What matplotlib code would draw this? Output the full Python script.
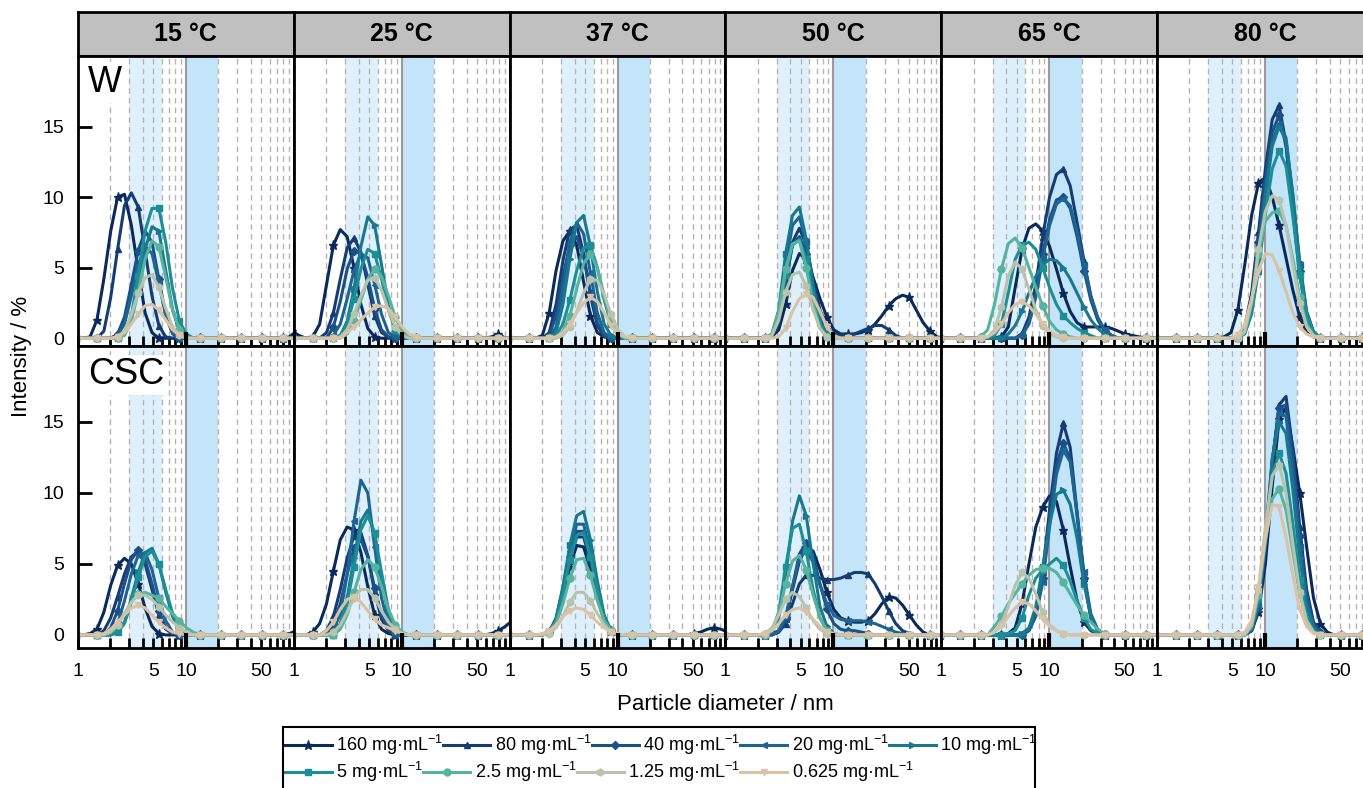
import numpy as np
import matplotlib
matplotlib.use('Agg')
import matplotlib.pyplot as plt
from matplotlib.ticker import NullFormatter
from matplotlib.patches import Rectangle

plt.rcParams['font.family'] = ['Liberation Sans', 'DejaVu Sans']
plt.rcParams['mathtext.default'] = 'regular'

# DLS size classes (nm)
bins_nm = [0.9649, 1.117, 1.294, 1.499, 1.736, 2.01, 2.328, 2.696, 3.122, 3.615,
           4.187, 4.849, 5.615, 6.503, 7.531, 8.721, 10.1, 11.7, 13.54, 15.69,
           18.17, 21.04, 24.36, 28.21, 32.67, 37.84, 43.82, 50.75, 58.77, 68.06,
           78.82, 91.28, 105.7]

temps = ['15 °C', '25 °C', '37 °C', '50 °C', '65 °C', '80 °C']
concs = ['160', '80', '40', '20', '10', '5', '2.5', '1.25', '0.625']
colors = ['#0a2a5c', '#163d73', '#1b4f88', '#1d6493', '#18788f', '#1c8f96',
          '#56b3a0', '#b8c3ad', '#d9c2a5']
markers = ['*', '^', 'D', '<', '>', 's', 'o', 'h', 'v']
msizes = [6.5, 5, 4, 5, 5, 4.5, 5, 5, 5]

# intensity distributions: (first bin, intensities / %) per concentration
w15 = [(2, [0.1, 1.3, 4.2, 7.6, 10.0, 10.2, 8.0, 4.8, 1.8, 0.4,
            0, 0, 0, 0, 0, 0, 0, 0, 0, 0, 0, 0, 0, 0, 0, 0, 0, 0, 0, 0.1, 0.5]),
       (4, [0.5, 2.9, 6.3, 9.4, 10.3, 9.3, 6.2, 3.0, 0.9, 0.1]),
       (6, [0.3, 1.5, 3.8, 6.2, 7.6, 6.8, 4.2, 1.6, 0.3]),
       (6, [0.2, 1.0, 3.0, 5.2, 6.5, 6.0, 3.9, 1.6, 0.4]),
       (7, [0.3, 1.5, 3.8, 6.3, 7.9, 7.6, 4.8, 2.0, 0.5, 0.2]),
       (7, [0.3, 1.6, 4.4, 7.6, 9.2, 9.2, 6.8, 3.5, 1.2, 0.3]),
       (7, [0.2, 1.2, 3.3, 5.6, 6.9, 6.5, 4.3, 2.0, 0.6, 0.1]),
       (6, [0.1, 0.5, 1.7, 3.2, 4.3, 4.5, 3.6, 2.1, 0.8, 0.2]),
       (6, [0.1, 0.4, 1.0, 1.7, 2.3, 2.4, 2.0, 1.3, 0.6, 0.2])]

w25 = [(0, [0.5, 0.2, 0, 0.1, 1.0, 3.8, 6.6, 7.7, 7.2, 5.0, 2.4, 0.7, 0.1,
            0, 0, 0, 0, 0, 0, 0, 0, 0, 0, 0, 0, 0, 0, 0, 0, 0.1, 0.3]),
       (5, [0.4, 1.8, 4.2, 6.4, 7.1, 6.1, 3.8, 1.6, 0.4, 0.1]),
       (6, [0.8, 2.6, 4.9, 6.2, 6.0, 4.3, 2.1, 0.6, 0.1]),
       (6, [0.2, 1.0, 2.8, 4.8, 6.0, 5.7, 3.8, 1.7, 0.4, 0.1]),
       (7, [0.2, 1.2, 3.5, 6.5, 8.6, 8.0, 5.2, 2.3, 0.6, 0.1]),
       (7, [0.2, 1.0, 2.8, 4.9, 6.3, 6.0, 4.2, 2.0, 0.6, 0.1]),
       (8, [0.3, 1.2, 2.7, 4.2, 4.9, 4.4, 3.0, 1.5, 0.5, 0.1]),
       (7, [0.1, 0.6, 1.7, 3.0, 4.1, 4.3, 3.4, 2.0, 0.8, 0.2]),
       (8, [0.4, 0.8, 1.3, 1.8, 2.2, 2.3, 2.1, 1.5, 0.8, 0.3, 0.1])]

w37 = [(5, [0.2, 1.8, 4.8, 6.9, 7.6, 6.6, 4.0, 1.6, 0.4, 0.1]),
       (6, [0.4, 2.4, 5.5, 7.7, 8.0, 6.0, 3.0, 0.9, 0.1]),
       (6, [0.2, 1.6, 4.4, 6.6, 7.2, 5.8, 3.2, 1.1, 0.2]),
       (7, [0.8, 3.5, 6.8, 8.2, 7.4, 4.6, 1.8, 0.4]),
       (7, [0.4, 2.4, 5.6, 8.2, 8.7, 6.5, 3.3, 1.0, 0.2]),
       (7, [0.2, 1.0, 2.7, 4.8, 6.4, 6.6, 5.0, 2.7, 1.0, 0.2]),
       (8, [0.5, 1.6, 3.5, 5.3, 6.0, 5.0, 3.0, 1.2, 0.3]),
       (8, [0.2, 0.8, 1.9, 3.2, 4.2, 4.1, 3.1, 1.7, 0.6, 0.1]),
       (7, [0.1, 0.4, 1.0, 1.8, 2.5, 2.9, 2.6, 1.8, 0.9, 0.3, 0.1])]

w50 = [(7, [0.1, 0.6, 2.4, 4.8, 6.0, 5.6, 4.3, 2.8, 1.5, 0.6, 0.3, 0.3, 0.3,
            0.4, 0.6, 1.0, 1.6, 2.3, 2.8, 3.05, 2.9, 2.0, 1.1, 0.5, 0.1]),
       (7, [0.1, 1.0, 3.8, 6.8, 7.8, 6.6, 4.2, 2.0, 0.8, 0.3, 0.2, 0.2, 0.3,
            0.5, 0.7, 0.9, 0.9, 0.6, 0.2]),
       (7, [0.1, 1.2, 4.0, 6.6, 7.2, 6.0, 3.6, 1.4, 0.4, 0.1]),
       (7, [0.2, 1.6, 5.2, 8.0, 8.6, 6.8, 3.7, 1.4, 0.4, 0.1]),
       (7, [0.3, 2.0, 6.0, 8.7, 9.3, 7.0, 3.6, 1.2, 0.3, 0.1]),
       (7, [0.2, 1.5, 4.5, 6.6, 7.0, 5.6, 3.0, 1.0, 0.2]),
       (7, [0.3, 1.9, 4.9, 6.7, 6.9, 5.0, 2.4, 0.7, 0.1]),
       (7, [0.2, 1.3, 3.3, 4.5, 4.7, 3.7, 2.0, 0.7, 0.1]),
       (8, [0.1, 0.7, 1.9, 2.8, 3.1, 2.9, 1.9, 0.8, 0.2])]

w65 = [(9, [0.1, 0.8, 3.6, 6.3, 7.8, 8.1, 7.6, 6.5, 4.9, 3.2, 1.9, 1.1, 0.8,
            0.8, 0.8, 0.8, 0.7, 0.5, 0.3, 0.2, 0.1]),
       (12, [0.3, 1.5, 3.8, 7.2, 10.0, 11.6, 12.0, 10.8, 8.2, 5.5, 3.0, 1.4, 0.6, 0.2]),
       (12, [0.2, 1.2, 3.2, 6.0, 8.4, 9.8, 10.0, 9.2, 7.2, 4.8, 2.7, 1.3, 0.5, 0.2]),
       (12, [0.2, 1.0, 2.9, 5.6, 8.0, 9.5, 9.9, 9.4, 7.6, 5.2, 3.0, 1.5, 0.6, 0.2]),
       (10, [0.3, 0.9, 1.9, 3.2, 4.4, 5.2, 5.6, 5.5, 5.0, 4.2, 3.2, 2.2, 1.3, 0.7, 0.3, 0.1]),
       (8, [0.2, 1.0, 3.2, 5.6, 6.6, 6.8, 6.3, 5.0, 3.6, 2.4, 1.6, 1.1, 0.7, 0.4, 0.2]),
       (6, [0.1, 0.6, 2.4, 4.9, 6.7, 7.1, 6.4, 5.0, 3.6, 2.3, 1.2, 0.6, 0.3, 0.1]),
       (7, [0.1, 0.6, 2.2, 4.4, 5.4, 4.9, 3.5, 2.0, 0.9, 0.3, 0.1]),
       (7, [0.1, 0.4, 1.0, 1.8, 2.4, 2.6, 2.3, 1.7, 1.0, 0.5, 0.2, 0.1])]

w80 = [(10, [0.1, 0.4, 2.0, 5.2, 8.7, 11.0, 11.4, 10.0, 8.0, 5.7, 3.4, 1.5, 0.4, 0.1]),
       (12, [0.1, 0.8, 3.2, 7.5, 12.0, 15.5, 16.5, 13.8, 9.0, 4.5, 1.5, 0.3]),
       (12, [0.1, 0.6, 2.8, 6.8, 11.2, 14.6, 15.8, 13.6, 9.2, 4.8, 1.7, 0.4]),
       (12, [0.1, 0.5, 2.4, 6.2, 10.5, 14.0, 15.2, 14.2, 10.0, 5.2, 1.8, 0.4]),
       (13, [0.4, 2.0, 5.6, 10.0, 13.6, 15.0, 14.0, 10.2, 5.4, 1.9, 0.5]),
       (13, [0.3, 1.7, 4.8, 8.8, 12.0, 13.3, 12.2, 8.6, 4.5, 1.6, 0.4]),
       (13, [0.4, 2.5, 6.0, 8.3, 8.9, 9.0, 8.0, 5.6, 2.9, 1.0, 0.2]),
       (13, [0.5, 2.6, 6.3, 9.0, 10.1, 9.8, 8.0, 5.2, 2.5, 0.8, 0.2]),
       (12, [0.2, 1.0, 2.8, 4.8, 6.0, 5.9, 4.8, 3.3, 1.8, 0.8, 0.3, 0.1])]

csc15 = [(2, [0.1, 0.4, 1.6, 3.5, 4.9, 5.4, 5.0, 3.6, 1.9, 0.6, 0.1,
              0, 0, 0, 0, 0, 0, 0, 0, 0, 0, 0, 0, 0, 0, 0, 0, 0, 0, 0.1, 0.3]),
         (4, [0.3, 1.2, 2.7, 4.3, 5.5, 5.9, 5.0, 3.2, 1.4, 0.4, 0.1]),
         (5, [0.5, 1.7, 3.6, 5.3, 6.0, 5.3, 3.6, 1.7, 0.5, 0.1]),
         (6, [0.8, 2.4, 4.3, 5.6, 5.8, 4.6, 2.6, 1.0, 0.2]),
         (6, [0.2, 0.9, 2.6, 4.4, 5.8, 6.1, 5.0, 3.0, 1.3, 0.3]),
         (6, [0.2, 0.8, 2.3, 4.1, 5.5, 5.9, 5.0, 3.2, 1.5, 0.4, 0.1]),
         (5, [0.2, 0.7, 1.5, 2.3, 2.9, 3.0, 2.8, 2.6, 2.0, 1.5, 1.0, 0.5, 0.2]),
         (5, [0.2, 0.7, 1.5, 2.3, 2.8, 2.8, 2.5, 2.0, 1.4, 0.9, 0.5, 0.2]),
         (4, [0.1, 0.4, 0.9, 1.4, 1.9, 2.1, 1.9, 1.4, 0.9, 0.5, 0.2, 0.1])]

csc25 = [(3, [0.2, 0.8, 2.2, 4.5, 6.7, 7.6, 7.4, 5.8, 3.4, 1.4, 0.4, 0.1,
              0, 0, 0, 0, 0, 0, 0, 0, 0, 0, 0, 0, 0, 0, 0.1, 0.3, 0.6, 1.0]),
         (5, [0.3, 1.3, 3.2, 5.4, 7.0, 7.2, 5.6, 3.0, 1.1, 0.3]),
         (6, [0.8, 2.2, 4.3, 6.1, 6.7, 5.5, 3.3, 1.4, 0.4, 0.1]),
         (6, [0.3, 1.5, 4.2, 8.0, 10.9, 10.0, 6.2, 2.6, 0.7, 0.1]),
         (7, [0.8, 2.6, 5.4, 8.0, 8.8, 7.0, 3.9, 1.4, 0.3]),
         (7, [0.7, 2.2, 4.8, 7.4, 8.4, 7.2, 4.4, 1.8, 0.5, 0.1]),
         (7, [0.4, 1.4, 3.0, 4.6, 5.3, 4.8, 3.4, 1.8, 0.7, 0.2]),
         (6, [0.2, 0.7, 1.6, 2.6, 3.2, 3.2, 2.6, 1.7, 0.9, 0.4, 0.1]),
         (5, [0.3, 0.9, 1.8, 2.5, 2.7, 2.3, 1.7, 1.1, 0.7, 0.5, 0.3, 0.1])]

csc37 = [(6, [0.2, 1.0, 2.7, 4.8, 6.3, 6.2, 4.6, 2.6, 1.0, 0.3,
              0, 0, 0, 0, 0, 0, 0, 0, 0, 0, 0, 0.1, 0.2, 0.4, 0.5, 0.4, 0.2]),
         (6, [0.2, 1.0, 2.9, 5.2, 6.9, 6.9, 5.2, 2.9, 1.1, 0.3]),
         (6, [0.2, 1.1, 3.1, 5.5, 7.3, 7.3, 5.5, 3.1, 1.2, 0.3]),
         (6, [0.2, 1.2, 3.3, 5.9, 7.8, 7.8, 5.8, 3.3, 1.2, 0.3]),
         (6, [0.2, 1.1, 3.4, 6.3, 8.4, 8.7, 6.7, 3.8, 1.4, 0.3]),
         (6, [0.2, 1.0, 2.9, 5.3, 7.0, 7.2, 5.5, 3.2, 1.2, 0.3]),
         (6, [0.2, 0.8, 2.2, 4.0, 5.3, 5.4, 4.2, 2.4, 1.0, 0.3]),
         (6, [0.1, 0.5, 1.3, 2.3, 3.0, 3.0, 2.4, 1.5, 0.7, 0.2]),
         (5, [0.1, 0.3, 0.7, 1.3, 1.7, 1.9, 1.8, 1.4, 0.9, 0.5, 0.2, 0.1])]

csc50 = [(7, [0.1, 0.3, 1.2, 3.2, 5.2, 6.2, 5.9, 4.6, 3.0, 1.8, 1.2, 1.0, 0.9,
              0.9, 1.0, 1.5, 2.2, 2.7, 2.6, 2.1, 1.4, 0.7, 0.2]),
         (8, [0.2, 0.8, 2.2, 3.6, 4.2, 4.2, 4.0, 3.9, 3.9, 4.0, 4.2, 4.4, 4.4,
              4.3, 3.6, 2.7, 1.7, 0.8, 0.3, 0.1]),
         (8, [0.2, 1.1, 3.4, 5.7, 6.5, 5.6, 3.6, 1.8, 0.8, 0.4, 0.3, 0.3, 0.2, 0.1]),
         (8, [0.3, 1.3, 3.4, 5.4, 6.0, 5.1, 3.5, 2.2, 1.4, 1.1, 1.0, 1.0, 1.0,
              0.9, 0.8, 0.6, 0.4, 0.2, 0.1]),
         (7, [0.2, 1.2, 4.2, 8.0, 9.8, 8.4, 5.0, 2.0, 0.6, 0.1]),
         (7, [0.3, 1.6, 4.8, 7.5, 7.8, 5.9, 3.2, 1.2, 0.3]),
         (7, [0.3, 1.5, 3.6, 5.2, 5.6, 4.6, 2.8, 1.2, 0.3]),
         (6, [0.1, 0.5, 1.4, 2.5, 3.0, 2.7, 1.9, 1.0, 0.4, 0.1]),
         (6, [0.1, 0.3, 0.8, 1.4, 1.8, 1.9, 1.6, 1.1, 0.6, 0.2, 0.1])]

csc65 = [(10, [0.1, 0.5, 2.2, 5.0, 7.6, 9.0, 9.8, 9.4, 7.4, 4.8, 2.4, 0.9, 0.3, 0.1]),
         (12, [0.1, 0.4, 1.6, 4.4, 8.8, 12.8, 14.9, 13.2, 8.6, 4.0, 1.2, 0.3]),
         (13, [0.3, 1.4, 4.0, 8.2, 12.0, 13.5, 12.4, 8.4, 4.0, 1.3, 0.3]),
         (13, [0.3, 1.3, 3.7, 7.6, 11.3, 13.0, 12.2, 8.6, 4.4, 1.5, 0.4]),
         (12, [0.1, 0.5, 2.0, 4.8, 7.8, 9.9, 10.2, 9.2, 6.8, 3.6, 1.3, 0.3]),
         (10, [0.1, 0.3, 1.2, 2.8, 4.0, 4.6, 5.0, 5.4, 4.9, 3.8, 2.4, 1.2, 0.4, 0.1]),
         (8, [0.6, 1.3, 2.2, 2.9, 3.6, 4.2, 4.6, 4.7, 4.7, 4.4, 3.7, 2.9, 2.1,
              1.4, 0.9, 0.4, 0.1]),
         (8, [0.2, 0.8, 2.0, 3.5, 4.4, 4.0, 2.9, 1.6, 0.7, 0.3, 0.1]),
         (8, [0.2, 0.6, 1.3, 1.9, 2.3, 2.2, 1.7, 1.1, 0.6, 0.3, 0.1])]

csc80 = [(14, [0.3, 1.6, 5.0, 10.5, 15.2, 16.0, 13.2, 10.0, 6.2, 2.6, 0.8, 0.2]),
         (14, [0.3, 1.8, 6.0, 12.0, 16.2, 16.8, 13.0, 7.6, 3.2, 0.9, 0.2]),
         (14, [0.3, 1.9, 6.2, 12.2, 16.0, 16.2, 12.4, 7.0, 2.8, 0.8, 0.2]),
         (14, [0.4, 2.1, 6.6, 12.4, 15.6, 15.4, 11.4, 6.2, 2.4, 0.6, 0.1]),
         (14, [0.4, 2.3, 7.0, 12.4, 15.0, 14.2, 10.2, 5.4, 2.0, 0.5, 0.1]),
         (14, [0.5, 2.6, 7.0, 11.3, 12.8, 11.4, 7.8, 3.9, 1.3, 0.3]),
         (14, [0.6, 2.8, 6.6, 9.6, 10.3, 8.8, 5.9, 2.9, 1.0, 0.2]),
         (14, [0.7, 3.2, 7.6, 11.2, 12.0, 10.0, 6.4, 3.0, 1.0, 0.2]),
         (13, [0.2, 1.0, 3.4, 6.8, 9.2, 9.0, 6.9, 4.2, 1.8, 0.6, 0.1])]

rows = [('W', [w15, w25, w37, w50, w65, w80]),
        ('CSC', [csc15, csc25, csc37, csc50, csc65, csc80])]

grid_pos = [2, 3, 4, 5, 6, 7, 8, 9, 20, 30, 40, 50, 60, 70, 80, 90]
minor_pos = [2, 3, 4, 6, 7, 8, 9, 20, 30, 40, 60, 70, 80, 90]


def expand(start, vals):
    y = np.zeros(len(bins_nm))
    y[start:start + len(vals)] = vals
    return y


W, H = 1363, 788
fig = plt.figure(figsize=(W / 100, H / 100), dpi=100)


def frac(x0, y0, w, h):
    return [x0 / W, 1 - (y0 + h) / H, w / W, h / H]


col_w = 215.8
left0 = 78
row_top = [56, 346]
row_h = [290, 302]
ylims = [(-0.55, 20.0), (-0.92, 20.35)]

# temperature header strips
for c, t in enumerate(temps):
    hax = fig.add_axes(frac(left0 + c * col_w, 12, col_w, 44))
    hax.set_facecolor('#c0c0c0')
    hax.set_xticks([])
    hax.set_yticks([])
    for sp in hax.spines.values():
        sp.set_linewidth(2)
    hax.text(0.5, 0.5, t, transform=hax.transAxes, ha='center', va='center',
             fontsize=18, fontweight='bold')

handles = []
for r, (medium, panels) in enumerate(rows):
    for c, panel in enumerate(panels):
        ax = fig.add_axes(frac(left0 + c * col_w, row_top[r], col_w, row_h[r]))
        ax.set_xscale('log')
        ax.set_xlim(1, 100)
        ax.set_ylim(*ylims[r])

        ax.axvspan(3, 6, color='#dff0fd', lw=0, zorder=0.5)
        ax.axvspan(10, 20, color='#c4e4f9', lw=0, zorder=0.5)
        for g in grid_pos:
            ax.axvline(g, color='#b4b4b4', lw=1, ls=(0, (4, 3)), zorder=1)
        ax.axvline(10, color='#9a9a9a', lw=1.5, zorder=1.2)

        for i, (start, vals) in enumerate(panel):
            ln, = ax.plot(bins_nm, expand(start, vals), color=colors[i], lw=2.2,
                          marker=markers[i], ms=msizes[i], markevery=3,
                          zorder=3 + i * 0.01,
                          label=f'{concs[i]} mg·mL$^{{-1}}$')
            if r == 0 and c == 0:
                handles.append(ln)

        ax.set_xticks([1, 5, 10, 50])
        ax.set_xticks(minor_pos, minor=True)
        ax.xaxis.set_minor_formatter(NullFormatter())
        if r == 1:
            ax.set_xticklabels(['1', '5', '10', '50'])
        else:
            ax.set_xticklabels([])
        ax.tick_params(axis='x', which='both', direction='in', length=7,
                       width=2, labelsize=14, pad=11)
        # longer mark at 10 nm
        ax.plot([10, 10], [0, 0.05], transform=ax.get_xaxis_transform(),
                color='black', lw=3, solid_capstyle='butt', clip_on=False,
                zorder=5)

        if c == 0:
            ax.set_yticks([0, 5, 10, 15])
            ax.tick_params(axis='y', direction='in', length=10, width=2,
                           labelsize=14, pad=10)
            ytop = 0.969 if r == 0 else 0.962
            ax.text(0.045, ytop, medium, transform=ax.transAxes, fontsize=26,
                    ha='left', va='top', zorder=4,
                    bbox=dict(facecolor='white', edgecolor='none', pad=2))
        else:
            ax.set_yticks([])

        for sp in ax.spines.values():
            sp.set_linewidth(2)
            sp.set_zorder(6)

fig.text(725 / W, 1 - 705 / H, 'Particle diameter / nm', ha='center',
         va='center', fontsize=16)
fig.text(22 / W, 1 - 356 / H, 'Intensity / %', ha='center', va='center',
         rotation=90, fontsize=16)

# two tightly packed legend rows inside one frame
leg_kw = dict(loc='upper left', fontsize=13, frameon=False, handlelength=2.6,
              handletextpad=0.25, columnspacing=0.0, borderpad=0,
              borderaxespad=0)
fig.legend(handles=handles[:5], ncol=5, bbox_to_anchor=(285 / W, 1 - 733 / H),
           **leg_kw)
fig.legend(handles=handles[5:], ncol=4, bbox_to_anchor=(285 / W, 1 - 760 / H),
           **leg_kw)
fig.add_artist(Rectangle((283 / W, 1 - 795 / H), (1035 - 283) / W, 68 / H,
                         transform=fig.transFigure, fill=False,
                         edgecolor='black', lw=1.5))

fig.savefig('out.png', dpi=100)
